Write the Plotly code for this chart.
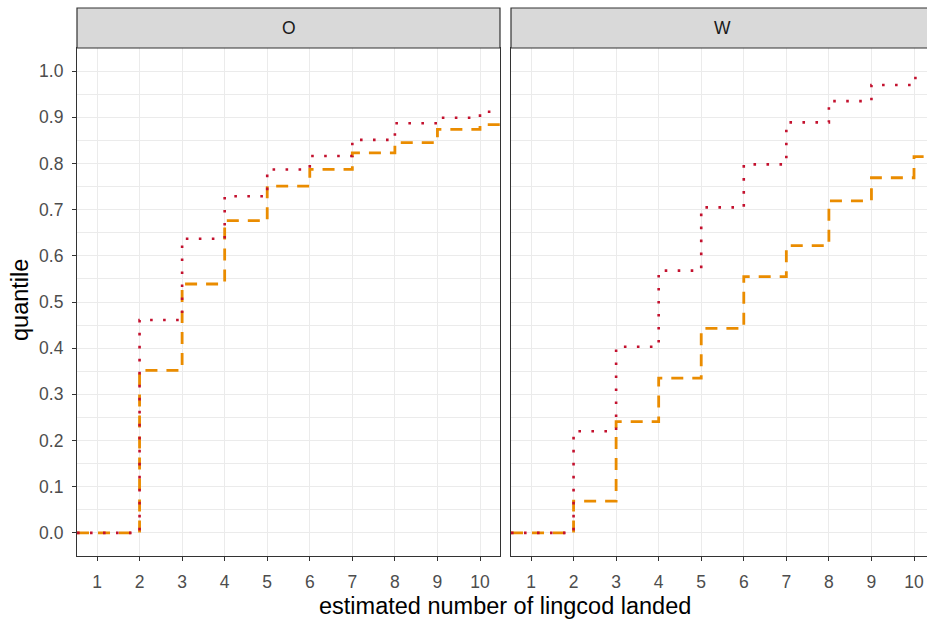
import plotly.graph_objects as go

# ---- data ----
x_vals = [1, 2, 3, 4, 5, 6, 7, 8, 9, 10]
x_ticks = [1, 2, 3, 4, 5, 6, 7, 8, 9, 10]
y_ticks = [0.0, 0.1, 0.2, 0.3, 0.4, 0.5, 0.6, 0.7, 0.8, 0.9, 1.0]
panels = ["O", "W"]
O_dotted = [0.0, 0.461, 0.637, 0.729, 0.787, 0.816, 0.851, 0.887, 0.899, 0.912]
O_dashed = [0.0, 0.352, 0.539, 0.676, 0.751, 0.787, 0.823, 0.845, 0.874, 0.884]
W_dotted = [0.0, 0.220, 0.403, 0.568, 0.705, 0.798, 0.889, 0.935, 0.970, 0.985]
W_dashed = [0.0, 0.069, 0.241, 0.335, 0.443, 0.555, 0.622, 0.719, 0.769, 0.815]

RED = "#C3112E"
ORANGE = "#EA8C00"
FONT = "Liberation Sans, Arial, sans-serif"

W, H = 927, 621
ML, MR, MT = 77, 0, 48
MB = H - 556
pw = W - ML - MR
ph = H - MT - MB

xr_left = [0.53, 10.47]
scale = (500 - 77) / (xr_left[1] - xr_left[0])
xr_right = [0.53, 0.53 + (927 - 511) / scale]
yr = [-0.05, 1.05]

dom_left = [0, (500 - 77) / pw]
dom_right = [(511 - 77) / pw, 1]

fig = go.Figure()

def step(xs, ys, xr):
    return [xr[0]] + xs + [xr[1]], [ys[0]] + ys + [ys[-1]]

for i, (dashed, dotted, xr) in enumerate([(O_dashed, O_dotted, xr_left), (W_dashed, W_dotted, xr_right)]):
    xa = "x" if i == 0 else "x2"
    ya = "y" if i == 0 else "y2"
    xs, ys = step(x_vals, dashed, xr)
    fig.add_trace(go.Scatter(x=xs, y=ys, mode="lines", line_shape="hv",
                             line=dict(color=ORANGE, width=2.8, dash="12px,9px"),
                             xaxis=xa, yaxis=ya, showlegend=False, hoverinfo="skip"))
    xs, ys = step(x_vals, dotted, xr)
    fig.add_trace(go.Scatter(x=xs, y=ys, mode="lines", line_shape="hv",
                             line=dict(color=RED, width=2.6, dash="2.6px,10.4px"),
                             xaxis=xa, yaxis=ya, showlegend=False, hoverinfo="skip"))

TICKFONT = dict(family=FONT, size=17.5, color="#4D4D4D")
grid = dict(showgrid=True, gridcolor="#EBEBEB", gridwidth=1.1, zeroline=False)
xcommon = dict(tickmode="array", tickvals=x_ticks, ticktext=[str(v) for v in x_ticks],
               ticks="outside", ticklen=4, tickwidth=1.1, tickcolor="#333333",
               tickfont=TICKFONT, ticklabelstandoff=6,
               showline=True, linecolor="#333333", linewidth=1.2, mirror=True, **grid)
ycommon = dict(range=yr, tickmode="array", tickvals=y_ticks,
               minor=dict(tickvals=[v + 0.05 for v in y_ticks],
                          showgrid=True, gridcolor="#EBEBEB", gridwidth=0.6),
               **grid)

fig.update_layout(
    width=W, height=H,
    margin=dict(l=ML, r=MR, t=MT, b=MB),
    paper_bgcolor="white", plot_bgcolor="white",
    font=dict(family=FONT, color="#1A1A1A"),
    xaxis=dict(domain=dom_left, range=xr_left, anchor="y", **xcommon),
    xaxis2=dict(domain=dom_right, range=xr_right, anchor="y2", **xcommon),
    yaxis=dict(domain=[0, 1], anchor="x", ticks="outside", ticklen=4, tickwidth=1.1,
               tickcolor="#333333", tickformat=".1f", tickfont=TICKFONT, ticklabelstandoff=5,
               showline=True, linecolor="#333333", linewidth=1.2, mirror=True,
               **ycommon),
    yaxis2=dict(domain=[0, 1], anchor="x2", showticklabels=False, ticks="",
                showline=True, linecolor="#333333", linewidth=1.2, mirror=False,
                **ycommon),
)

strip_h = 40 / ph
full_w = (500 - 77) / pw
for x0, label, x1 in [(dom_left[0], panels[0], dom_left[1]), (dom_right[0], panels[1], 1.02)]:
    fig.add_shape(type="rect", xref="paper", yref="paper", x0=x0, x1=x1,
                  y0=1, y1=1 + strip_h, fillcolor="#D9D9D9",
                  line=dict(color="#333333", width=1.2), layer="above")
    fig.add_annotation(xref="paper", yref="paper", x=x0 + full_w / 2,
                       y=1 + strip_h / 2, text=label, showarrow=False,
                       font=dict(family=FONT, size=17.5, color="#1A1A1A"),
                       xanchor="center", yanchor="middle")

# axis titles
fig.add_annotation(xref="paper", yref="paper", x=(505 - 77) / pw, y=-(606 - 556) / ph,
                   text="estimated number of lingcod landed", showarrow=False,
                   font=dict(family=FONT, size=23.5, color="#000000"),
                   xanchor="center", yanchor="middle")
fig.add_annotation(xref="paper", yref="paper", x=(20 - 77) / pw, y=(556 - 300) / ph,
                   text="quantile", showarrow=False, textangle=-90,
                   font=dict(family=FONT, size=23.5, color="#000000"),
                   xanchor="center", yanchor="middle")

fig.write_html("out.html", config={"displayModeBar": False},
               post_script="document.body.style.margin='0';document.body.style.overflow='hidden';")
